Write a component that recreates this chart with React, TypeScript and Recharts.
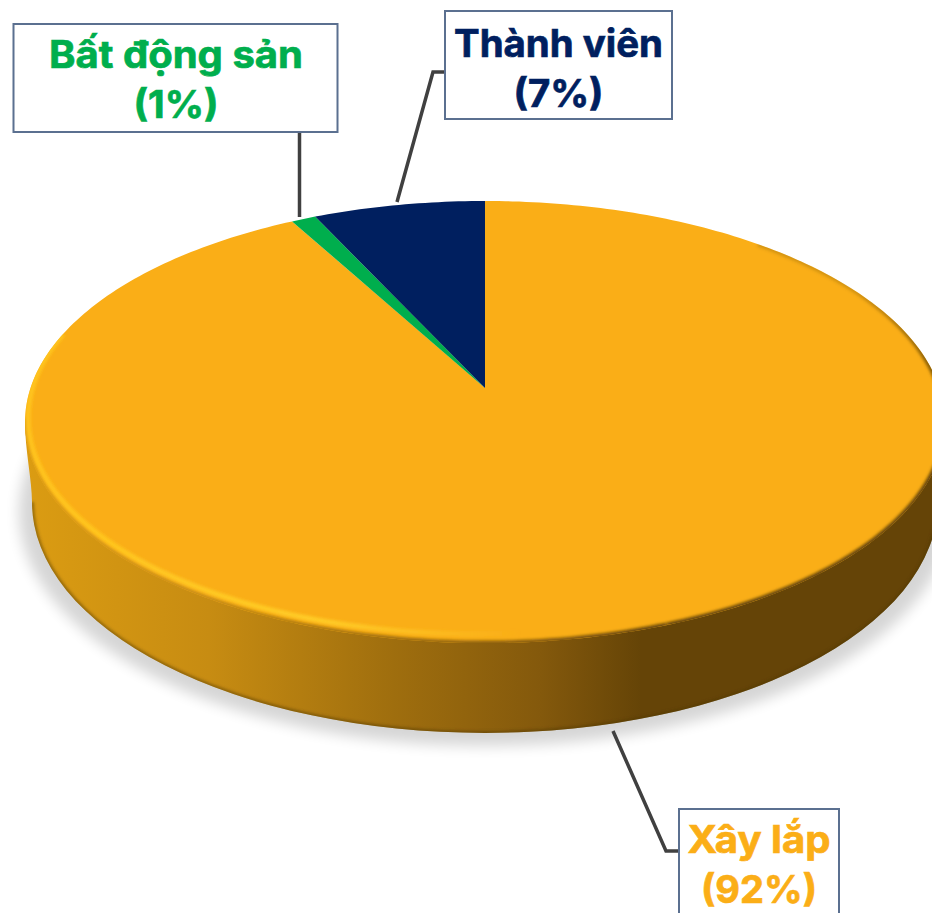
import React from 'react';
import { PieChart, Pie } from 'recharts';

const names = ['Xây lắp', 'Bất động sản', 'Thành viên'];
const values = [92, 1, 7];
const percentLabels = ['(92%)', '(1%)', '(7%)'];
const colors = ['#FAAE17', '#00AE4D', '#001F5F'];
const textColors = ['#FBAE17', '#00AE4D', '#001F5F'];

const tableData = names.map((name, i) => ({ name, value: values[i], fill: colors[i] }));

// layout of the callouts, not data
const callouts = [
  { x: 679, y: 809, w: 160, h: 120, tx: 759, base: 853, nameW: 143, pctW: 116, line: '613,731 666,851 679,851' },
  { x: 13.5, y: 24, w: 324, h: 108, tx: 176, base: 68, nameW: 254, pctW: 85, line: '299.5,132 299.5,217' },
  { x: 445, y: 11, w: 227, h: 108, tx: 558.5, base: 57, nameW: 209, pctW: 90, line: '445,72 433,72 397,202' },
];

// projection of the flat pie onto the tilted top face
const CX = 485;
const CY = 388;
const A = 454.5;
const B = 215.8;
const K = 0.154;
const FONT = 'Inter, "Noto Sans", sans-serif';

const project = (deg: number, scale = 1) => {
  const t = (deg * Math.PI) / 180;
  const u = Math.cos(t) * scale;
  const v = Math.sin(t) * scale;
  const w = 1 + K * v;
  return [CX + (A * u) / w, CY - (B * v) / w];
};

// scale may change along the arc, the highlight moves inward towards the front
const arcPoints = (from: number, to: number, scale = 1, endScale = scale) => {
  const steps = Math.max(2, Math.ceil(Math.abs(to - from)));
  const pts: string[] = [];
  for (let i = 0; i <= steps; i++) {
    const f = i / steps;
    const p = project(from + (to - from) * f, scale + (endScale - scale) * f);
    pts.push(`${p[0].toFixed(2)} ${p[1].toFixed(2)}`);
  }
  return pts;
};

const wallBottom = 'M 32 502 A 453 231 0 0 0 938 502';
const wallPath = 'M 25 422 C 25 450 32 480 32 502 A 453 231 0 0 0 938 502 C 938 480 945 450 945 422 Z';

const Slice = (props: any) => {
  const { startAngle, endAngle, fill } = props;
  const pts = arcPoints(startAngle, endAngle);
  const d = `M ${CX} ${CY} L ${pts.join(' L ')} Z`;
  if (startAngle !== 90) {
    return <path d={d} fill={fill} />;
  }
  return (
    <g>
      <defs>
        <linearGradient id="wallGrad" gradientUnits="userSpaceOnUse" x1="25" y1="0" x2="945" y2="0">
          <stop offset="0" stopColor="#DB9C12" />
          <stop offset="0.2" stopColor="#C78C12" />
          <stop offset="0.4" stopColor="#9F6E0E" />
          <stop offset="0.56" stopColor="#84590C" />
          <stop offset="0.67" stopColor="#654407" />
          <stop offset="1" stopColor="#654407" />
        </linearGradient>
        <linearGradient id="brightGrad" gradientUnits="userSpaceOnUse" x1="25" y1="0" x2="520" y2="0">
          <stop offset="0" stopColor="#FFC41C" />
          <stop offset="0.6" stopColor="#FFCC26" />
          <stop offset="1" stopColor="#FFCC26" stopOpacity="0" />
        </linearGradient>
        <linearGradient id="darkGrad" gradientUnits="userSpaceOnUse" x1="0" y1="290" x2="0" y2="400">
          <stop offset="0" stopColor="#654407" stopOpacity="0.25" />
          <stop offset="1" stopColor="#654407" />
        </linearGradient>
        <filter id="shadowBlur" x="-10%" y="-10%" width="120%" height="120%">
          <feGaussianBlur stdDeviation="7" />
        </filter>
        <filter id="rimBlur" x="-10%" y="-10%" width="120%" height="120%">
          <feGaussianBlur stdDeviation="1.8" />
        </filter>
        <clipPath id="faceClip">
          <path d={`M ${arcPoints(0, 360).join(' L ')} Z`} />
        </clipPath>
        <clipPath id="wallClip">
          <path d={wallPath} />
        </clipPath>
      </defs>
      <ellipse cx={485} cy={512} rx={466} ry={234} fill="#000" opacity={0.16} filter="url(#shadowBlur)" />
      <path d={wallPath} fill="url(#wallGrad)" />
      <g clipPath="url(#wallClip)">
        <path d={wallBottom} fill="none" stroke="#4f3504" strokeOpacity={0.5} strokeWidth={4} filter="url(#rimBlur)" />
      </g>
      <path d={d} fill={fill} />
      <g clipPath="url(#faceClip)">
        <path
          d={`M ${arcPoints(-70, -172, 1).join(' L ')}`}
          fill="none"
          stroke="url(#wallGrad)"
          strokeWidth={5}
          filter="url(#rimBlur)"
        />
        <path
          d={`M ${arcPoints(165, 285, 1, 0.965).join(' L ')}`}
          fill="none"
          stroke="url(#brightGrad)"
          strokeWidth={5}
          filter="url(#rimBlur)"
        />
        <path
          d={`M ${arcPoints(48, -70, 1).join(' L ')}`}
          fill="none"
          stroke="url(#darkGrad)"
          strokeWidth={5}
          filter="url(#rimBlur)"
        />
      </g>
    </g>
  );
};

const Callout = (props: any) => {
  const { index } = props;
  const c = callouts[index];
  const textProps = {
    x: c.tx,
    textAnchor: 'middle' as const,
    fontFamily: FONT,
    fontWeight: 700,
    fontSize: 38,
    fill: textColors[index],
    stroke: textColors[index],
    strokeWidth: 0.7,
    lengthAdjust: 'spacingAndGlyphs' as const,
  };
  return (
    <g>
      <polyline points={c.line} fill="none" stroke="#404040" strokeWidth={3.5} />
      <rect x={c.x} y={c.y} width={c.w} height={c.h} fill="#fff" stroke="#5B7090" strokeWidth={2} />
      <text {...textProps} y={c.base} textLength={c.nameW}>
        {names[index]}
      </text>
      <text {...textProps} y={c.base + 50} textLength={c.pctW}>
        {percentLabels[index]}
      </text>
    </g>
  );
};

export default function App() {
  return (
    <div style={{ position: 'absolute', left: 0, top: 0, width: 932, height: 913, overflow: 'hidden', background: '#fff' }}>
      <PieChart width={932} height={913} margin={{ top: 0, right: 0, bottom: 0, left: 0 }}>
        <Pie
          data={tableData}
          dataKey="value"
          nameKey="name"
          cx={CX}
          cy={CY}
          outerRadius={200}
          startAngle={90}
          endAngle={-270}
          stroke="none"
          shape={Slice}
          label={Callout}
          labelLine={false}
          isAnimationActive={false}
        />
      </PieChart>
    </div>
  );
}
